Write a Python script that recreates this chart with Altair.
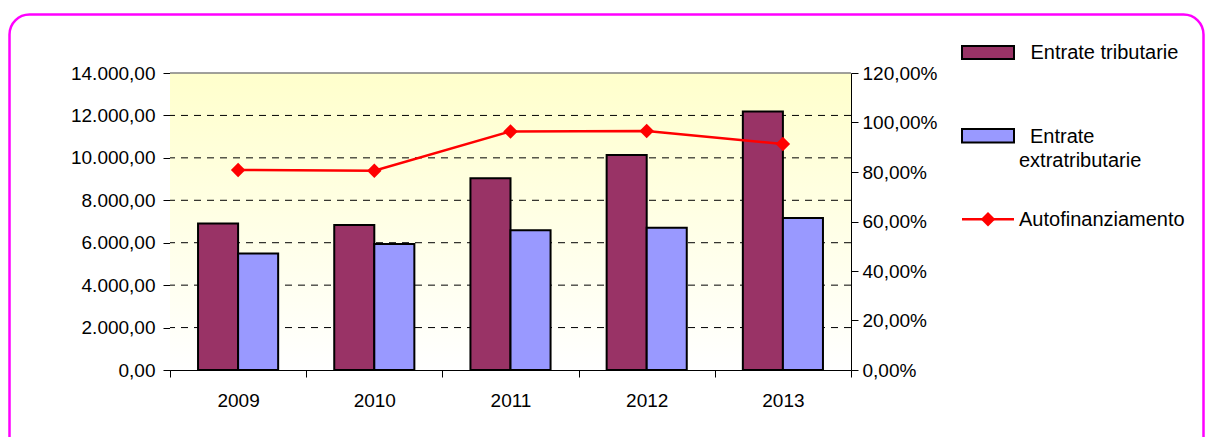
import altair as alt
import pandas as pd

# ---- data ----
years = ["2009", "2010", "2011", "2012", "2013"]
entrate_tributarie = [6900, 6840, 9040, 10130, 12190]
entrate_extratributarie = [5490, 5945, 6590, 6710, 7165]
autofinanziamento = [0.808, 0.805, 0.964, 0.966, 0.913]
series_names = ["Entrate tributarie", "Entrate extratributarie", "Autofinanziamento"]
series_colors = ["#993366", "#9999FF", "#FF0000"]
grid_values = [2000, 4000, 6000, 8000, 10000, 12000]
left_ticks = [0, 2000, 4000, 6000, 8000, 10000, 12000, 14000]
right_ticks = [0, 0.2, 0.4, 0.6, 0.8, 1.0, 1.2]

FONT = "Liberation Sans"
FS = 19
LFS = 20
W, H = 681, 297

bars_df = pd.DataFrame(
    [{"anno": y, "serie": series_names[0], "valore": v} for y, v in zip(years, entrate_tributarie)]
    + [{"anno": y, "serie": series_names[1], "valore": v} for y, v in zip(years, entrate_extratributarie)]
)
line_df = pd.DataFrame({"anno": years, "perc": autofinanziamento})
grid_df = pd.DataFrame({"valore": grid_values})

x_enc = alt.X(
    "anno:N",
    title=None,
    sort=years,
    scale=alt.Scale(paddingInner=0, paddingOuter=0),
    axis=alt.Axis(
        labelAngle=0, tickBand="extent", labelFont=FONT, labelFontSize=FS,
        labelColor="black", domainColor="black", tickColor="black",
        tickSize=7, labelPadding=14, grid=False,
    ),
)

one = alt.Data(values=[{"k": 0}])

# border
border = alt.Chart(one).mark_rect(
    fill="transparent", stroke="#FF00FF", strokeWidth=2.5, cornerRadius=20
).encode(
    x=alt.value(-160.5), x2=alt.value(1033.5), y=alt.value(-58.5), y2=alt.value(385)
)

# plot background gradient
bg = alt.Chart(one).mark_rect(
    fill=alt.Gradient(
        gradient="linear",
        stops=[alt.GradientStop(color="#FFFFCC", offset=0),
               alt.GradientStop(color="#FFFFFF", offset=1)],
        x1=0, x2=0, y1=0, y2=1,
    )
).encode(x=alt.value(0), x2=alt.value(W), y=alt.value(0), y2=alt.value(H))

top_border = alt.Chart(one).mark_rule(color="#808080", strokeWidth=1.5).encode(
    x=alt.value(0), x2=alt.value(W), y=alt.value(0)
)

left_axis = alt.Axis(
    values=left_ticks, format=",.2f", grid=False, labelFont=FONT, labelFontSize=FS,
    labelColor="black", domainColor="black", tickColor="black", tickSize=7,
    labelPadding=8,
)
left_scale = alt.Scale(domain=[0, 14000], nice=False)

grid = alt.Chart(grid_df).mark_rule(color="black", strokeWidth=1, strokeDash=[7, 6]).encode(
    y=alt.Y("valore:Q", title=None, scale=left_scale, axis=left_axis)
)

bars = alt.Chart(bars_df).mark_bar(stroke="black", strokeWidth=2).encode(
    x=x_enc,
    xOffset=alt.XOffset("serie:N", sort=series_names[:2],
                        scale=alt.Scale(paddingInner=0, paddingOuter=0.7)),
    y=alt.Y("valore:Q", title=None, scale=left_scale, axis=left_axis),
    color=alt.Color("serie:N", scale=alt.Scale(domain=series_names[:2], range=series_colors[:2]),
                    legend=None),
)

left_group = alt.layer(grid, bars)

line = alt.Chart(line_df).mark_line(
    color=series_colors[2], strokeWidth=2.5,
    point=alt.OverlayMarkDef(shape="diamond", size=210, filled=True, color=series_colors[2]),
).encode(
    x=alt.X("anno:N", sort=years),
    y=alt.Y(
        "perc:Q", title=None,
        scale=alt.Scale(domain=[0, 1.2], nice=False),
        axis=alt.Axis(
            orient="right", values=right_ticks, format=".2%", grid=False,
            labelFont=FONT, labelFontSize=FS, labelColor="black",
            domainColor="black", tickColor="black", tickSize=7, labelPadding=4,
        ),
    ),
)

# manual legend
leg_r1 = alt.Chart(one).mark_rect(fill=series_colors[0], stroke="black", strokeWidth=2).encode(
    x=alt.value(792), x2=alt.value(844), y=alt.value(-27), y2=alt.value(-14))
leg_r2 = alt.Chart(one).mark_rect(fill=series_colors[1], stroke="black", strokeWidth=2).encode(
    x=alt.value(792), x2=alt.value(844), y=alt.value(56), y2=alt.value(69.5))
leg_l = alt.Chart(one).mark_rule(color=series_colors[2], strokeWidth=2.5).encode(
    x=alt.value(792), x2=alt.value(844), y=alt.value(146.3))
leg_p = alt.Chart(one).mark_point(shape="diamond", size=210, filled=True, color=series_colors[2], opacity=1).encode(
    x=alt.value(818), y=alt.value(146.3))

def legtext(txt, x, y):
    return alt.Chart(one).mark_text(
        text=txt, align="left", baseline="middle", font=FONT, fontSize=LFS, color="black"
    ).encode(x=alt.value(x), y=alt.value(y))

leg_t1 = legtext(series_names[0], 860.5, -20)
leg_t2a = legtext("Entrate", 860, 64)
leg_t2b = legtext("extratributarie", 849, 87.5)
leg_t3 = legtext(series_names[2], 849, 146.5)

chart = alt.layer(
    border, bg, top_border, left_group, line,
    leg_r1, leg_r2, leg_l, leg_p, leg_t1, leg_t2a, leg_t2b, leg_t3,
).resolve_scale(y="independent").properties(
    width=W, height=H,
    autosize=alt.AutoSizeParams(type="none"),
    padding={"left": 162, "top": 65, "right": 355, "bottom": 67},
).configure(
    locale={"number": {"decimal": ",", "thousands": ".", "grouping": [3], "currency": ["", " €"]}}
).configure_view(stroke=None)

chart.save("out.html", embed_options={"renderer": "svg", "actions": False})
